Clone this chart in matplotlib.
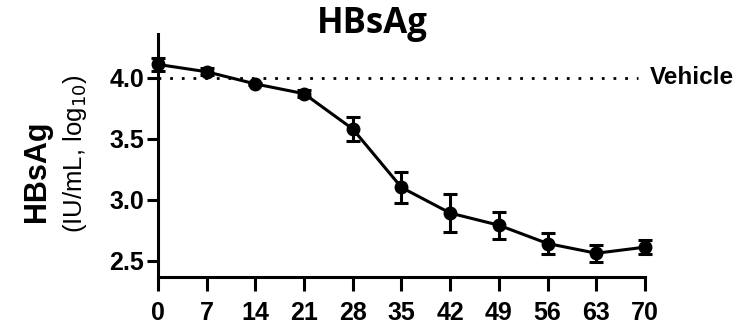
import numpy as np
import matplotlib
matplotlib.use('Agg')
import matplotlib.pyplot as plt

days = [0, 7, 14, 21, 28, 35, 42, 49, 56, 63, 70]
hbsag = [4.11, 4.05, 3.95, 3.87, 3.58, 3.10, 2.89, 2.79, 2.64, 2.56, 2.61]
err = [0.05, 0.03, 0.01, 0.03, 0.10, 0.13, 0.155, 0.11, 0.09, 0.07, 0.06]
vehicle = 4.0
yticks = [2.5, 3.0, 3.5, 4.0]

plt.rcParams['font.family'] = ['Liberation Sans', 'DejaVu Sans']

fig = plt.figure(figsize=(7.41, 3.25), dpi=100)
ax = fig.add_axes([0.2132, 0.1477, 0.6572, 0.7477])

ax.plot([0, 69], [vehicle, vehicle], linestyle=(0, (1, 3.2)), color='black', lw=2, clip_on=False)
ax.errorbar(days, hbsag, yerr=err, color='black', marker='o', markersize=9, lw=2.2,
            elinewidth=2.2, capsize=5, capthick=2.2, clip_on=False, zorder=3)

ax.set_xlim(0, 70)
ax.set_ylim(2.365, 4.36)
ax.set_xticks(days)
ax.set_yticks(yticks)
ax.set_yticklabels(['%.1f' % v for v in yticks])
for s in ['top', 'right']:
    ax.spines[s].set_visible(False)
for s in ['left', 'bottom']:
    ax.spines[s].set_linewidth(2.2)
ax.tick_params(axis='x', width=2.2, length=10, labelsize=18, pad=7)
ax.tick_params(axis='y', width=2.2, length=8, labelsize=18, pad=2)
for lbl in ax.get_xticklabels() + ax.get_yticklabels():
    lbl.set_fontweight('bold')

ax.text(70.7, vehicle, 'Vehicle', fontsize=17.5, fontweight='bold', va='center', ha='left', clip_on=False)

fig.text(0.503, 0.925, 'HBsAg', fontsize=25, fontweight='bold', ha='center', va='center',
         family=['Open Sans', 'DejaVu Sans'])
fig.text(0.05, 0.474, 'HBsAg', fontsize=22, fontweight='bold', rotation=90, ha='center', va='center')
fig.text(0.101, 0.528, '(IU/mL, log$_{10}$)', fontsize=18.5, rotation=90, ha='center', va='center')

fig.savefig('out.png', dpi=100)
